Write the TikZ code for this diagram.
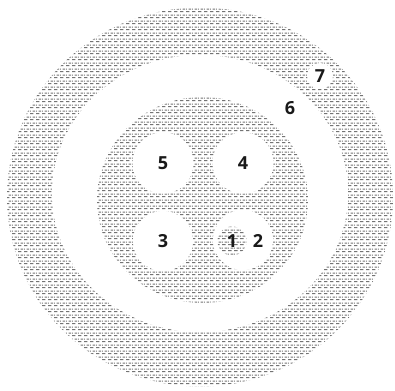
\documentclass[tikz,border=0pt]{standalone}
\usepackage{fontspec}
\setmainfont{Open Sans}
\usetikzlibrary{shapes.geometric,patterns.meta}
\tikzdeclarepattern{name=hdash, type=uncolored,
  bottom left={(0pt,0pt)}, top right={(6pt,6pt)}, tile size={(6pt,6pt)},
  code={
    \draw[line width=1.1pt] (0pt,1.5pt) -- (4pt,1.5pt);
    \draw[line width=1.1pt] (3pt,4.5pt) -- (6pt,4.5pt);
    \draw[line width=1.1pt] (0pt,4.5pt) -- (1pt,4.5pt);
  }}
\tikzset{
  shaded/.style={pattern=hdash, pattern color=black!55},
  blob/.style={ellipse, inner sep=0pt, draw=none},
  hole/.style={circle, inner sep=0pt, fill=white, draw=none},
  lab/.style={font=\bfseries\fontsize{18}{18}\selectfont, text=black!90, inner sep=0pt}
}
\begin{document}
\begin{tikzpicture}[x=1pt,y=-1pt]
\useasboundingbox (0,0) rectangle (395,390);
\fill[white] (0,0) rectangle (395,390);
\node[blob, shaded, minimum width=386pt, minimum height=379pt] (outer) at (200,197) {};
\node[blob, fill=white, minimum width=296pt, minimum height=277pt] (ring) at (200,193.5) {};
\node[blob, shaded, minimum width=211pt, minimum height=206pt] (mid) at (202.5,200) {};
\node[hole, minimum size=61pt] (c5) at (163,163) {};
\node[hole, minimum size=61pt] (c4) at (243,163) {};
\node[hole, minimum size=60pt] (c3) at (163,241) {};
\node[hole, minimum size=60pt] (c2) at (243,240) {};
\node[circle, inner sep=0pt, shaded, minimum size=29pt] (c1) at (232,241) {};
\node[hole, minimum size=26pt] (c7) at (320,76) {};
\node[lab] (l5) at (c5) {5};
\node[lab] (l4) at (c4) {4};
\node[lab] (l3) at (c3) {3};
\node[lab] (l1) at (c1) {1};
\node[lab] (l2) at (258,241) {2};
\node[lab] (l6) at (290,108) {6};
\node[lab] (l7) at (c7) {7};
\end{tikzpicture}
\end{document}
